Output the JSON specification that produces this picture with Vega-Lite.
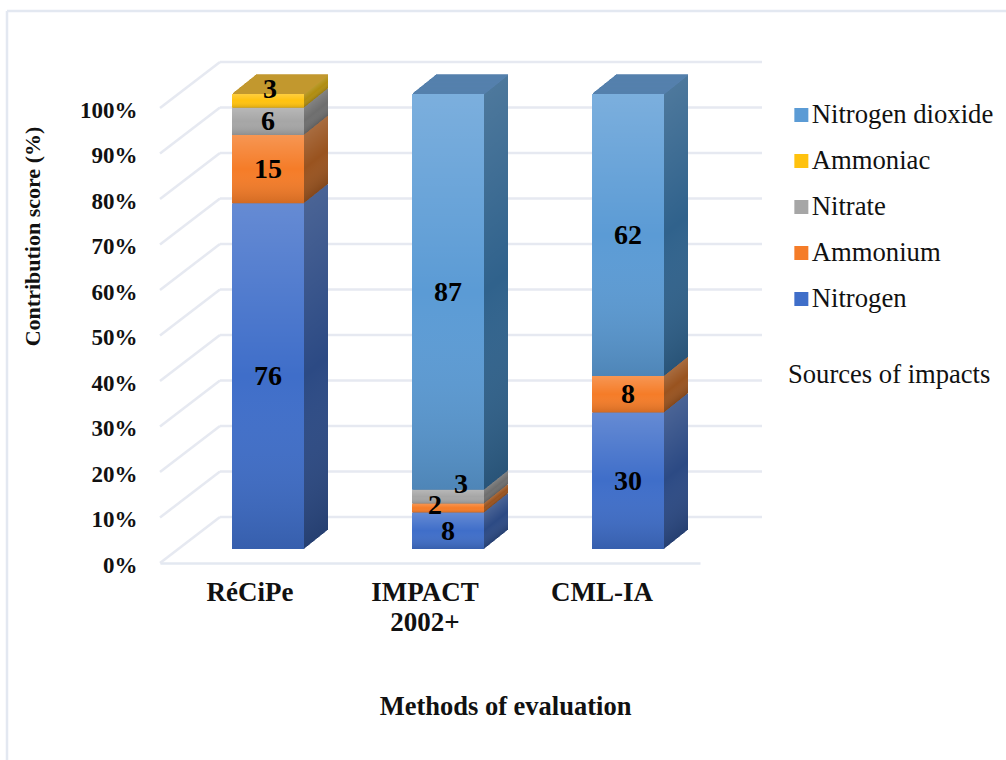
{"$schema":"https://vega.github.io/schema/vega-lite/v6.json","width":540,"height":455,"autosize":{"type":"none"},"padding":{"left":160,"top":108,"right":306,"bottom":197},"background":"white","config":{"view":{"stroke":null},"font":"Liberation Serif"},
"datasets":{"grid":[{"pct":0},{"pct":10},{"pct":20},{"pct":30},{"pct":40},{"pct":50},{"pct":60},{"pct":70},{"pct":80},{"pct":90},{"pct":100}],
"rows":[{"method":"RéCiPe","source":"Nitrogen","order":1,"value":76},{"method":"RéCiPe","source":"Ammonium","order":2,"value":15},{"method":"RéCiPe","source":"Nitrate","order":3,"value":6},{"method":"RéCiPe","source":"Ammoniac","order":4,"value":3},{"method":"IMPACT 2002+","source":"Nitrogen","order":1,"value":8},{"method":"IMPACT 2002+","source":"Ammonium","order":2,"value":2},{"method":"IMPACT 2002+","source":"Nitrate","order":3,"value":3},{"method":"IMPACT 2002+","source":"Nitrogen dioxide","order":5,"value":87},{"method":"CML-IA","source":"Nitrogen","order":1,"value":30},{"method":"CML-IA","source":"Ammonium","order":2,"value":8},{"method":"CML-IA","source":"Nitrogen dioxide","order":5,"value":62}]},
"layer":[
{"data":{"values":[{}]},"mark":{"type":"rule","stroke":"#e3e8f1","strokeWidth":2.5},"encoding":{"x":{"value":-153},"y":{"value":-97},"y2":{"value":652}}},
{"data":{"values":[{}]},"mark":{"type":"rule","stroke":"#e3e8f1","strokeWidth":2.5},"encoding":{"x":{"value":-153},"x2":{"value":846},"y":{"value":-97}}},
{"data":{"name":"grid"},"mark":{"type":"rule","stroke":"#e6e9f1","strokeWidth":2.5,"yOffset":-46},"encoding":{"x":{"value":60},"x2":{"value":602},"y":{"field":"pct","type":"quantitative","scale":{"domain":[0,100],"nice":false},"axis":{"values":[0,10,20,30,40,50,60,70,80,90,100],"labelExpr":"datum.value+'%'","grid":false,"ticks":false,"domain":false,"labelFont":"Liberation Serif","labelFontWeight":"bold","labelFontSize":23,"labelColor":"#111111","labelPadding":23,"labelOffset":2,"title":"Contribution score (%)","titleFont":"Liberation Serif","titleFontWeight":"bold","titleFontSize":22,"titleColor":"#111111","titleX":-128,"titleY":128,"titleAngle":-90,"titleAlign":"center","titleBaseline":"middle"}}}},
{"data":{"name":"grid"},"mark":{"type":"rule","stroke":"#e6e9f1","strokeWidth":2.5,"y2Offset":-46},"encoding":{"x":{"value":0},"x2":{"value":60},"y":{"field":"pct","type":"quantitative"},"y2":{"field":"pct"}}},
{"data":{"name":"rows"},"transform":[{"stack":"value","groupby":["method"],"sort":[{"field":"order","order":"ascending"}],"as":["start","end"]},{"calculate":"(datum.start+datum.end)/2","as":"mid"}],
"encoding":{"x":{"field":"method","type":"nominal","sort":["RéCiPe","IMPACT 2002+","CML-IA"],"scale":{"paddingInner":0.6,"paddingOuter":0.3},"axis":{"labelAngle":0,"ticks":false,"domainColor":"#e3e8f1","domainWidth":2.5,"labelFont":"Liberation Serif","labelFontWeight":"bold","labelFontSize":27,"labelColor":"#111111","labelPadding":16,"labelLineHeight":30,"labelExpr":"split(datum.label,' ')","labelOffset":{"condition":[{"test":"datum.value=='CML-IA'","value":-8},{"test":"datum.value=='IMPACT 2002+'","value":-5}],"value":0},"title":"Methods of evaluation","titleFont":"Liberation Serif","titleFontWeight":"bold","titleFontSize":26.5,"titleColor":"#111111","titleX":345,"titleY":143,"titleBaseline":"middle","titleAlign":"center"}}},
"resolve":{"scale":{"fill":"independent"},"legend":{"fill":"independent"}},
"layer":[
{"encoding":{"y":{"field":"start","type":"quantitative"},"y2":{"field":"end"}},
"layer":[
{"mark":{"type":"bar","xOffset":42,"yOffset":-33,"y2Offset":-33},"encoding":{"fill":{"field":"source","type":"nominal","legend":null,"scale":{"domain":["Nitrogen dioxide","Ammoniac","Nitrate","Ammonium","Nitrogen"],"range":["#30628c","#b08d10","#6e6e6e","#99531f","#2c4a84"]}}}},
{"mark":{"type":"bar","xOffset":42,"yOffset":-33,"y2Offset":-33,"fill":{"gradient":"linear","x1":0,"y1":0,"x2":0,"y2":1,"stops":[{"offset":0,"color":"rgba(255,255,255,0.14)"},{"offset":0.5,"color":"rgba(255,255,255,0)"},{"offset":1,"color":"rgba(0,0,0,0.14)"}]}}},
{"mark":{"type":"bar","xOffset":41,"yOffset":-32.2,"y2Offset":-32.2},"encoding":{"fill":{"field":"source","type":"nominal","legend":null}}},
{"mark":{"type":"bar","xOffset":41,"yOffset":-32.2,"y2Offset":-32.2,"fill":{"gradient":"linear","x1":0,"y1":0,"x2":0,"y2":1,"stops":[{"offset":0,"color":"rgba(255,255,255,0.14)"},{"offset":0.5,"color":"rgba(255,255,255,0)"},{"offset":1,"color":"rgba(0,0,0,0.14)"}]}}},
{"mark":{"type":"bar","xOffset":40,"yOffset":-31.4,"y2Offset":-31.4},"encoding":{"fill":{"field":"source","type":"nominal","legend":null}}},
{"mark":{"type":"bar","xOffset":40,"yOffset":-31.4,"y2Offset":-31.4,"fill":{"gradient":"linear","x1":0,"y1":0,"x2":0,"y2":1,"stops":[{"offset":0,"color":"rgba(255,255,255,0.14)"},{"offset":0.5,"color":"rgba(255,255,255,0)"},{"offset":1,"color":"rgba(0,0,0,0.14)"}]}}},
{"mark":{"type":"bar","xOffset":39,"yOffset":-30.6,"y2Offset":-30.6},"encoding":{"fill":{"field":"source","type":"nominal","legend":null}}},
{"mark":{"type":"bar","xOffset":39,"yOffset":-30.6,"y2Offset":-30.6,"fill":{"gradient":"linear","x1":0,"y1":0,"x2":0,"y2":1,"stops":[{"offset":0,"color":"rgba(255,255,255,0.14)"},{"offset":0.5,"color":"rgba(255,255,255,0)"},{"offset":1,"color":"rgba(0,0,0,0.14)"}]}}},
{"mark":{"type":"bar","xOffset":38,"yOffset":-29.8,"y2Offset":-29.8},"encoding":{"fill":{"field":"source","type":"nominal","legend":null}}},
{"mark":{"type":"bar","xOffset":38,"yOffset":-29.8,"y2Offset":-29.8,"fill":{"gradient":"linear","x1":0,"y1":0,"x2":0,"y2":1,"stops":[{"offset":0,"color":"rgba(255,255,255,0.14)"},{"offset":0.5,"color":"rgba(255,255,255,0)"},{"offset":1,"color":"rgba(0,0,0,0.14)"}]}}},
{"mark":{"type":"bar","xOffset":37,"yOffset":-29,"y2Offset":-29},"encoding":{"fill":{"field":"source","type":"nominal","legend":null}}},
{"mark":{"type":"bar","xOffset":37,"yOffset":-29,"y2Offset":-29,"fill":{"gradient":"linear","x1":0,"y1":0,"x2":0,"y2":1,"stops":[{"offset":0,"color":"rgba(255,255,255,0.14)"},{"offset":0.5,"color":"rgba(255,255,255,0)"},{"offset":1,"color":"rgba(0,0,0,0.14)"}]}}},
{"mark":{"type":"bar","xOffset":36,"yOffset":-28.2,"y2Offset":-28.2},"encoding":{"fill":{"field":"source","type":"nominal","legend":null}}},
{"mark":{"type":"bar","xOffset":36,"yOffset":-28.2,"y2Offset":-28.2,"fill":{"gradient":"linear","x1":0,"y1":0,"x2":0,"y2":1,"stops":[{"offset":0,"color":"rgba(255,255,255,0.14)"},{"offset":0.5,"color":"rgba(255,255,255,0)"},{"offset":1,"color":"rgba(0,0,0,0.14)"}]}}},
{"mark":{"type":"bar","xOffset":35,"yOffset":-27.4,"y2Offset":-27.4},"encoding":{"fill":{"field":"source","type":"nominal","legend":null}}},
{"mark":{"type":"bar","xOffset":35,"yOffset":-27.4,"y2Offset":-27.4,"fill":{"gradient":"linear","x1":0,"y1":0,"x2":0,"y2":1,"stops":[{"offset":0,"color":"rgba(255,255,255,0.14)"},{"offset":0.5,"color":"rgba(255,255,255,0)"},{"offset":1,"color":"rgba(0,0,0,0.14)"}]}}},
{"mark":{"type":"bar","xOffset":34,"yOffset":-26.6,"y2Offset":-26.6},"encoding":{"fill":{"field":"source","type":"nominal","legend":null}}},
{"mark":{"type":"bar","xOffset":34,"yOffset":-26.6,"y2Offset":-26.6,"fill":{"gradient":"linear","x1":0,"y1":0,"x2":0,"y2":1,"stops":[{"offset":0,"color":"rgba(255,255,255,0.14)"},{"offset":0.5,"color":"rgba(255,255,255,0)"},{"offset":1,"color":"rgba(0,0,0,0.14)"}]}}},
{"mark":{"type":"bar","xOffset":33,"yOffset":-25.8,"y2Offset":-25.8},"encoding":{"fill":{"field":"source","type":"nominal","legend":null}}},
{"mark":{"type":"bar","xOffset":33,"yOffset":-25.8,"y2Offset":-25.8,"fill":{"gradient":"linear","x1":0,"y1":0,"x2":0,"y2":1,"stops":[{"offset":0,"color":"rgba(255,255,255,0.14)"},{"offset":0.5,"color":"rgba(255,255,255,0)"},{"offset":1,"color":"rgba(0,0,0,0.14)"}]}}},
{"mark":{"type":"bar","xOffset":32,"yOffset":-25,"y2Offset":-25},"encoding":{"fill":{"field":"source","type":"nominal","legend":null}}},
{"mark":{"type":"bar","xOffset":32,"yOffset":-25,"y2Offset":-25,"fill":{"gradient":"linear","x1":0,"y1":0,"x2":0,"y2":1,"stops":[{"offset":0,"color":"rgba(255,255,255,0.14)"},{"offset":0.5,"color":"rgba(255,255,255,0)"},{"offset":1,"color":"rgba(0,0,0,0.14)"}]}}},
{"mark":{"type":"bar","xOffset":31,"yOffset":-24.2,"y2Offset":-24.2},"encoding":{"fill":{"field":"source","type":"nominal","legend":null}}},
{"mark":{"type":"bar","xOffset":31,"yOffset":-24.2,"y2Offset":-24.2,"fill":{"gradient":"linear","x1":0,"y1":0,"x2":0,"y2":1,"stops":[{"offset":0,"color":"rgba(255,255,255,0.14)"},{"offset":0.5,"color":"rgba(255,255,255,0)"},{"offset":1,"color":"rgba(0,0,0,0.14)"}]}}},
{"mark":{"type":"bar","xOffset":30,"yOffset":-23.4,"y2Offset":-23.4},"encoding":{"fill":{"field":"source","type":"nominal","legend":null}}},
{"mark":{"type":"bar","xOffset":30,"yOffset":-23.4,"y2Offset":-23.4,"fill":{"gradient":"linear","x1":0,"y1":0,"x2":0,"y2":1,"stops":[{"offset":0,"color":"rgba(255,255,255,0.14)"},{"offset":0.5,"color":"rgba(255,255,255,0)"},{"offset":1,"color":"rgba(0,0,0,0.14)"}]}}},
{"mark":{"type":"bar","xOffset":29,"yOffset":-22.6,"y2Offset":-22.6},"encoding":{"fill":{"field":"source","type":"nominal","legend":null}}},
{"mark":{"type":"bar","xOffset":29,"yOffset":-22.6,"y2Offset":-22.6,"fill":{"gradient":"linear","x1":0,"y1":0,"x2":0,"y2":1,"stops":[{"offset":0,"color":"rgba(255,255,255,0.14)"},{"offset":0.5,"color":"rgba(255,255,255,0)"},{"offset":1,"color":"rgba(0,0,0,0.14)"}]}}},
{"mark":{"type":"bar","xOffset":28,"yOffset":-21.8,"y2Offset":-21.8},"encoding":{"fill":{"field":"source","type":"nominal","legend":null}}},
{"mark":{"type":"bar","xOffset":28,"yOffset":-21.8,"y2Offset":-21.8,"fill":{"gradient":"linear","x1":0,"y1":0,"x2":0,"y2":1,"stops":[{"offset":0,"color":"rgba(255,255,255,0.14)"},{"offset":0.5,"color":"rgba(255,255,255,0)"},{"offset":1,"color":"rgba(0,0,0,0.14)"}]}}},
{"mark":{"type":"bar","xOffset":27,"yOffset":-21,"y2Offset":-21},"encoding":{"fill":{"field":"source","type":"nominal","legend":null}}},
{"mark":{"type":"bar","xOffset":27,"yOffset":-21,"y2Offset":-21,"fill":{"gradient":"linear","x1":0,"y1":0,"x2":0,"y2":1,"stops":[{"offset":0,"color":"rgba(255,255,255,0.14)"},{"offset":0.5,"color":"rgba(255,255,255,0)"},{"offset":1,"color":"rgba(0,0,0,0.14)"}]}}},
{"mark":{"type":"bar","xOffset":26,"yOffset":-20.2,"y2Offset":-20.2},"encoding":{"fill":{"field":"source","type":"nominal","legend":null}}},
{"mark":{"type":"bar","xOffset":26,"yOffset":-20.2,"y2Offset":-20.2,"fill":{"gradient":"linear","x1":0,"y1":0,"x2":0,"y2":1,"stops":[{"offset":0,"color":"rgba(255,255,255,0.14)"},{"offset":0.5,"color":"rgba(255,255,255,0)"},{"offset":1,"color":"rgba(0,0,0,0.14)"}]}}},
{"mark":{"type":"bar","xOffset":25,"yOffset":-19.4,"y2Offset":-19.4},"encoding":{"fill":{"field":"source","type":"nominal","legend":null}}},
{"mark":{"type":"bar","xOffset":25,"yOffset":-19.4,"y2Offset":-19.4,"fill":{"gradient":"linear","x1":0,"y1":0,"x2":0,"y2":1,"stops":[{"offset":0,"color":"rgba(255,255,255,0.14)"},{"offset":0.5,"color":"rgba(255,255,255,0)"},{"offset":1,"color":"rgba(0,0,0,0.14)"}]}}},
{"mark":{"type":"bar","xOffset":24,"yOffset":-18.6,"y2Offset":-18.6},"encoding":{"fill":{"field":"source","type":"nominal","legend":null}}},
{"mark":{"type":"bar","xOffset":24,"yOffset":-18.6,"y2Offset":-18.6,"fill":{"gradient":"linear","x1":0,"y1":0,"x2":0,"y2":1,"stops":[{"offset":0,"color":"rgba(255,255,255,0.14)"},{"offset":0.5,"color":"rgba(255,255,255,0)"},{"offset":1,"color":"rgba(0,0,0,0.14)"}]}}},
{"mark":{"type":"bar","xOffset":23,"yOffset":-17.8,"y2Offset":-17.8},"encoding":{"fill":{"field":"source","type":"nominal","legend":null}}},
{"mark":{"type":"bar","xOffset":23,"yOffset":-17.8,"y2Offset":-17.8,"fill":{"gradient":"linear","x1":0,"y1":0,"x2":0,"y2":1,"stops":[{"offset":0,"color":"rgba(255,255,255,0.14)"},{"offset":0.5,"color":"rgba(255,255,255,0)"},{"offset":1,"color":"rgba(0,0,0,0.14)"}]}}},
{"mark":{"type":"bar","xOffset":22,"yOffset":-17,"y2Offset":-17},"encoding":{"fill":{"field":"source","type":"nominal","legend":null}}},
{"mark":{"type":"bar","xOffset":22,"yOffset":-17,"y2Offset":-17,"fill":{"gradient":"linear","x1":0,"y1":0,"x2":0,"y2":1,"stops":[{"offset":0,"color":"rgba(255,255,255,0.14)"},{"offset":0.5,"color":"rgba(255,255,255,0)"},{"offset":1,"color":"rgba(0,0,0,0.14)"}]}}},
{"mark":{"type":"bar","xOffset":21,"yOffset":-16.2,"y2Offset":-16.2},"encoding":{"fill":{"field":"source","type":"nominal","legend":null}}},
{"mark":{"type":"bar","xOffset":21,"yOffset":-16.2,"y2Offset":-16.2,"fill":{"gradient":"linear","x1":0,"y1":0,"x2":0,"y2":1,"stops":[{"offset":0,"color":"rgba(255,255,255,0.14)"},{"offset":0.5,"color":"rgba(255,255,255,0)"},{"offset":1,"color":"rgba(0,0,0,0.14)"}]}}},
{"mark":{"type":"bar","xOffset":20,"yOffset":-15.4,"y2Offset":-15.4},"encoding":{"fill":{"field":"source","type":"nominal","legend":null}}},
{"mark":{"type":"bar","xOffset":20,"yOffset":-15.4,"y2Offset":-15.4,"fill":{"gradient":"linear","x1":0,"y1":0,"x2":0,"y2":1,"stops":[{"offset":0,"color":"rgba(255,255,255,0.14)"},{"offset":0.5,"color":"rgba(255,255,255,0)"},{"offset":1,"color":"rgba(0,0,0,0.14)"}]}}},
{"mark":{"type":"bar","xOffset":19,"yOffset":-14.6,"y2Offset":-14.6},"encoding":{"fill":{"field":"source","type":"nominal","legend":null}}},
{"mark":{"type":"bar","xOffset":19,"yOffset":-14.6,"y2Offset":-14.6,"fill":{"gradient":"linear","x1":0,"y1":0,"x2":0,"y2":1,"stops":[{"offset":0,"color":"rgba(255,255,255,0.14)"},{"offset":0.5,"color":"rgba(255,255,255,0)"},{"offset":1,"color":"rgba(0,0,0,0.14)"}]}}}
]},
{"transform":[{"filter":"datum.end>=100"}],"encoding":{"y":{"field":"end","type":"quantitative"},"y2":{"field":"end"},"stroke":{"field":"source","type":"nominal","legend":null,"scale":{"domain":["Nitrogen dioxide","Ammoniac"],"range":["#5580ad","#c2982f"]}}},
"layer":[
{"mark":{"type":"bar","strokeWidth":1.5,"xOffset":42,"yOffset":-33,"y2Offset":-33}},{"mark":{"type":"bar","strokeWidth":1.5,"xOffset":41,"yOffset":-32.2,"y2Offset":-32.2}},{"mark":{"type":"bar","strokeWidth":1.5,"xOffset":40,"yOffset":-31.4,"y2Offset":-31.4}},{"mark":{"type":"bar","strokeWidth":1.5,"xOffset":39,"yOffset":-30.6,"y2Offset":-30.6}},{"mark":{"type":"bar","strokeWidth":1.5,"xOffset":38,"yOffset":-29.8,"y2Offset":-29.8}},{"mark":{"type":"bar","strokeWidth":1.5,"xOffset":37,"yOffset":-29,"y2Offset":-29}},{"mark":{"type":"bar","strokeWidth":1.5,"xOffset":36,"yOffset":-28.2,"y2Offset":-28.2}},{"mark":{"type":"bar","strokeWidth":1.5,"xOffset":35,"yOffset":-27.4,"y2Offset":-27.4}},{"mark":{"type":"bar","strokeWidth":1.5,"xOffset":34,"yOffset":-26.6,"y2Offset":-26.6}},{"mark":{"type":"bar","strokeWidth":1.5,"xOffset":33,"yOffset":-25.8,"y2Offset":-25.8}},{"mark":{"type":"bar","strokeWidth":1.5,"xOffset":32,"yOffset":-25,"y2Offset":-25}},{"mark":{"type":"bar","strokeWidth":1.5,"xOffset":31,"yOffset":-24.2,"y2Offset":-24.2}},{"mark":{"type":"bar","strokeWidth":1.5,"xOffset":30,"yOffset":-23.4,"y2Offset":-23.4}},{"mark":{"type":"bar","strokeWidth":1.5,"xOffset":29,"yOffset":-22.6,"y2Offset":-22.6}},{"mark":{"type":"bar","strokeWidth":1.5,"xOffset":28,"yOffset":-21.8,"y2Offset":-21.8}},{"mark":{"type":"bar","strokeWidth":1.5,"xOffset":27,"yOffset":-21,"y2Offset":-21}},{"mark":{"type":"bar","strokeWidth":1.5,"xOffset":26,"yOffset":-20.2,"y2Offset":-20.2}},{"mark":{"type":"bar","strokeWidth":1.5,"xOffset":25,"yOffset":-19.4,"y2Offset":-19.4}},{"mark":{"type":"bar","strokeWidth":1.5,"xOffset":24,"yOffset":-18.6,"y2Offset":-18.6}},{"mark":{"type":"bar","strokeWidth":1.5,"xOffset":23,"yOffset":-17.8,"y2Offset":-17.8}},{"mark":{"type":"bar","strokeWidth":1.5,"xOffset":22,"yOffset":-17,"y2Offset":-17}},{"mark":{"type":"bar","strokeWidth":1.5,"xOffset":21,"yOffset":-16.2,"y2Offset":-16.2}},{"mark":{"type":"bar","strokeWidth":1.5,"xOffset":20,"yOffset":-15.4,"y2Offset":-15.4}},{"mark":{"type":"bar","strokeWidth":1.5,"xOffset":19,"yOffset":-14.6,"y2Offset":-14.6}}]},
{"mark":{"type":"bar","xOffset":18,"yOffset":-14,"y2Offset":-14},"encoding":{"y":{"field":"start","type":"quantitative"},"y2":{"field":"end"},"fill":{"field":"source","type":"nominal","scale":{"domain":["Nitrogen dioxide","Ammoniac","Nitrate","Ammonium","Nitrogen"],"range":["#5b9bd5","#ffc20e","#a6a6a6","#f57c28","#3f6ec9"]},
"legend":{"orient":"none","legendX":628,"legendY":-6,"padding":0,"title":"Sources of impacts","titleOrient":"bottom","titlePadding":49,"titleLimit":0,"titleFont":"Liberation Serif","titleFontWeight":"normal","titleFontSize":26.6,"titleColor":"#111111","titleAnchor":"start","symbolType":"square","symbolSize":196,"symbolStrokeWidth":0,"symbolOffset":0,"labelFont":"Liberation Serif","labelFontSize":26.7,"labelLimit":0,"labelColor":"#111111","labelOffset":-3,"rowPadding":19,"clipHeight":26}}}},
{"mark":{"type":"bar","xOffset":18,"yOffset":-14,"y2Offset":-14,"fill":{"gradient":"linear","x1":0,"y1":0,"x2":0,"y2":1,"stops":[{"offset":0,"color":"rgba(255,255,255,0.2)"},{"offset":0.5,"color":"rgba(255,255,255,0)"},{"offset":1,"color":"rgba(0,0,0,0.14)"}]}},"encoding":{"y":{"field":"start","type":"quantitative"},"y2":{"field":"end"}}},
{"transform":[{"filter":"!(datum.source=='Ammoniac' || (datum.method=='IMPACT 2002+' && (datum.source=='Nitrate' || datum.source=='Ammonium')))"}],"mark":{"type":"text","font":"Liberation Serif","fontWeight":"bold","fontSize":28,"color":"#000000","dx":18,"dy":-13},"encoding":{"y":{"field":"mid","type":"quantitative"},"text":{"field":"value","type":"quantitative"}}},
{"transform":[{"filter":"datum.source=='Ammoniac'"}],"mark":{"type":"text","font":"Liberation Serif","fontWeight":"bold","fontSize":28,"color":"#000000","dx":20,"dy":-25},"encoding":{"y":{"field":"mid","type":"quantitative"},"text":{"field":"value","type":"quantitative"}}},
{"transform":[{"filter":"datum.method=='IMPACT 2002+' && datum.source=='Nitrate'"}],"mark":{"type":"text","font":"Liberation Serif","fontWeight":"bold","fontSize":28,"color":"#000000","dx":31,"dy":-26},"encoding":{"y":{"field":"mid","type":"quantitative"},"text":{"field":"value","type":"quantitative"}}},
{"transform":[{"filter":"datum.method=='IMPACT 2002+' && datum.source=='Ammonium'"}],"mark":{"type":"text","font":"Liberation Serif","fontWeight":"bold","fontSize":28,"color":"#000000","dx":5,"dy":-16},"encoding":{"y":{"field":"mid","type":"quantitative"},"text":{"field":"value","type":"quantitative"}}}
]}
]}
